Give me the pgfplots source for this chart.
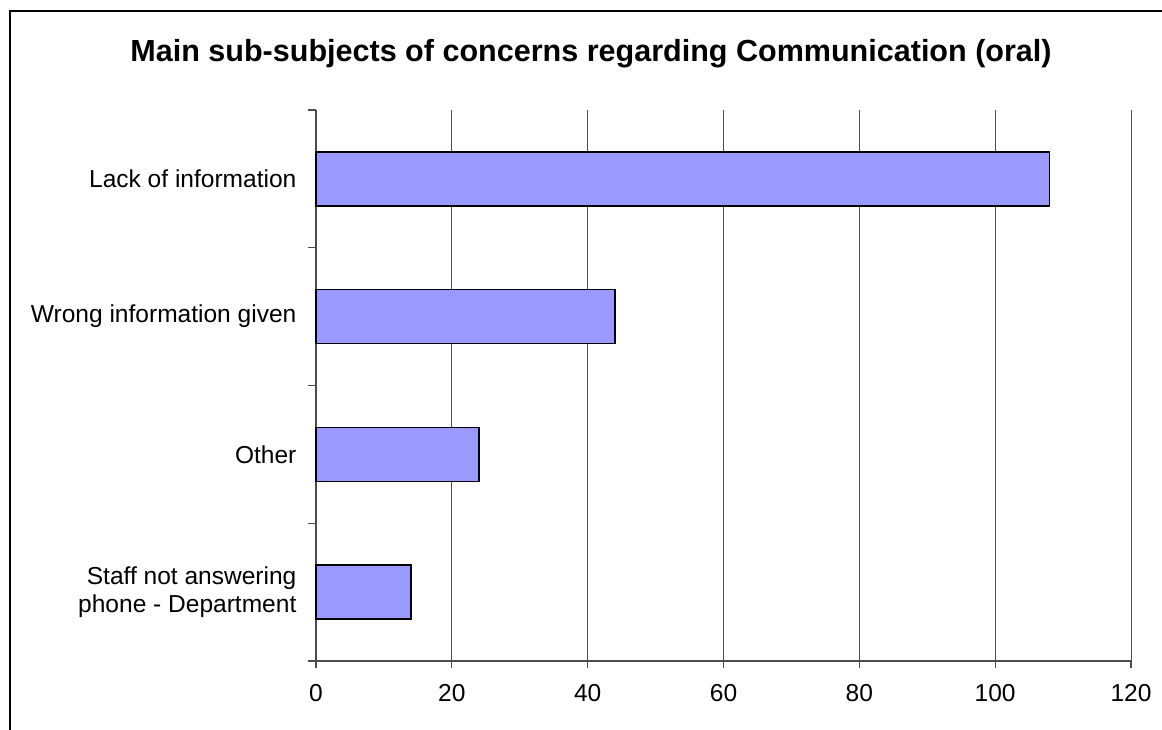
\documentclass[border=0pt]{standalone}
\usepackage{fontspec}
\setmainfont{Liberation Sans}
\usepackage{pgfplots}
\pgfplotsset{compat=1.18}
\definecolor{barblue}{HTML}{9999FF}
\begin{document}
\begin{tikzpicture}[x=0.75pt,y=0.75pt]
\useasboundingbox (0,0) rectangle (1162,729);
\clip (0,0) rectangle (1162,729);
\draw[line width=1.5pt] (10,-30) -- (10,718) -- (1200,718);
\node[anchor=base, font=\fontsize{22.9}{27}\selectfont\bfseries] at (591,667) {Main sub-subjects of concerns regarding Communication (oral)};
\begin{axis}[
  at={(237pt,51pt)}, anchor=south west,
  scale only axis, width=611.25pt, height=413.25pt,
  xmin=0, xmax=120, ymin=-0.5, ymax=3.5,
  axis x line*=bottom, axis y line*=left,
  axis line style={black!70, line width=0.8pt, -},
  xtick={0,20,...,120}, xmajorgrids,
  major grid style={black!70, line width=0.6pt},
  tick style={black!70, line width=0.8pt},
  tick align=outside,
  major tick length=5.5pt,
  ytick={0,1,2,3},
  yticklabels={{Staff not answering\\phone - Department},Other,Wrong information given,Lack of information},
  y tick style={draw=none},
  extra y ticks={-0.5,0.5,1.5,2.5,3.5},
  extra y tick labels={},
  extra y tick style={y tick style={draw=black!70, line width=0.8pt}, major tick length=6pt},
  /pgf/number format/assume math mode=true,
  ticklabel style={font=\fontsize{18.4}{21.5}\selectfont},
  yticklabel style={align=right, anchor=east, inner sep=0pt, xshift=-9pt},
  xticklabel style={anchor=north, inner sep=0pt, yshift=-12pt},
  clip=false,
]
\addplot[xbar, bar width=40.5pt, bar shift=0pt, fill=barblue, draw=black, line width=1pt]
  coordinates {(14,0) (24,1) (44,2) (108,3)};
\end{axis}
\end{tikzpicture}
\end{document}
